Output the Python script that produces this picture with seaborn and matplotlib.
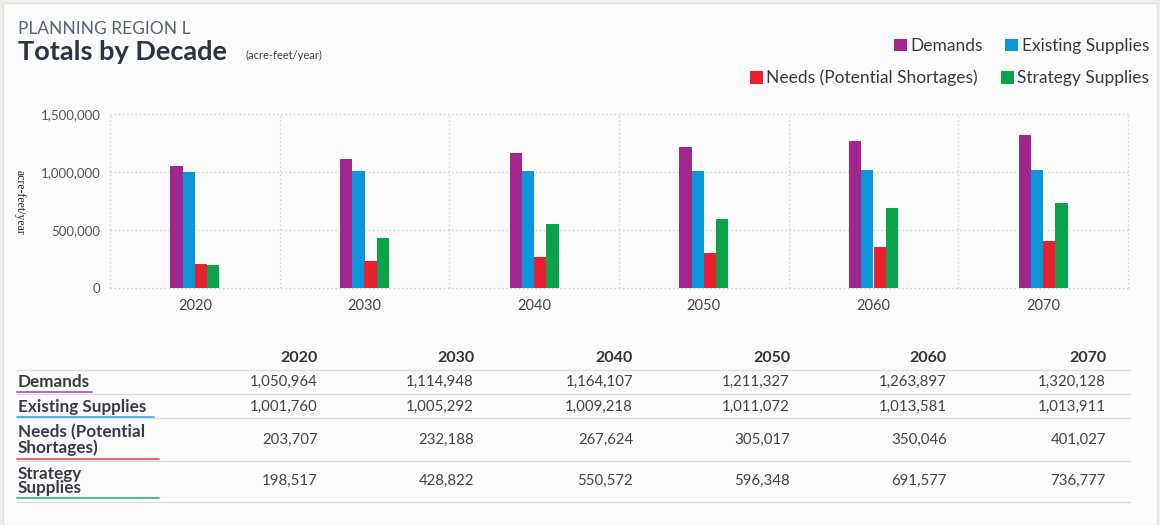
import numpy as np
import pandas as pd
import matplotlib
matplotlib.use("Agg")
import matplotlib.pyplot as plt
from matplotlib.patches import Patch
from matplotlib.lines import Line2D
import seaborn as sns

# ---- data -------------------------------------------------------------
decades = ["2020", "2030", "2040", "2050", "2060", "2070"]
series = ["Demands", "Existing Supplies", "Needs (Potential Shortages)", "Strategy Supplies"]
demands = [1050964, 1114948, 1164107, 1211327, 1263897, 1320128]
existing_supplies = [1001760, 1005292, 1009218, 1011072, 1013581, 1013911]
needs = [203707, 232188, 267624, 305017, 350046, 401027]
strategy_supplies = [198517, 428822, 550572, 596348, 691577, 736777]
row_labels = ["Demands", "Existing Supplies", "Needs (Potential\nShortages)", "Strategy\nSupplies"]
y_ticks = [0, 500000, 1000000, 1500000]

colors = ["#a0278f", "#0a96d8", "#e8202f", "#0aa24a"]

values = [demands, existing_supplies, needs, strategy_supplies]
df = pd.DataFrame({
    "decade": np.repeat([decades], len(series), axis=0).ravel(),
    "series": np.repeat(series, len(decades)),
    "value": np.concatenate(values),
})

# ---- figure -----------------------------------------------------------
sns.set_theme(style="white")
plt.rcParams["font.family"] = ["Lato", "DejaVu Sans"]

W, H = 1160, 525
fig = plt.figure(figsize=(W / 100, H / 100), dpi=100, facecolor="#efeeea")

# white card behind everything
card = plt.Rectangle((3 / W, 0), 1 - 6 / W, 1 - 3 / H, transform=fig.transFigure,
                     facecolor="#fbfbfb", edgecolor="#e4e3df", lw=1, zorder=-5)
fig.patches.append(card)


def fx(x):
    return x / W


def fy(y):
    return 1 - y / H


ax = fig.add_axes([fx(110), fy(288), fx(1128) - fx(110), fy(114) - fy(288)])
ax.set_facecolor("none")
ax.set_zorder(2)

sns.barplot(data=df, x="decade", y="value", hue="series", order=decades,
            hue_order=series, palette=colors, width=0.29, gap=0,
            saturation=1, dodge=True, legend=False, ax=ax, linewidth=0)

ax.set_xlim(-0.5, len(decades) - 0.5)
ax.set_ylim(0, 1500000)
ax.set_yticks(y_ticks)
ax.set_yticklabels([f"{v:,}" for v in y_ticks])
ax.set_xticks(range(len(decades)))
ax.set_xticklabels(decades)
ax.tick_params(axis="both", which="both", length=0)
ax.tick_params(axis="y", labelsize=9.5, labelcolor="#555555", pad=7)
ax.tick_params(axis="x", labelsize=10.5, labelcolor="#444444", pad=8)
ax.set_xlabel("")
ax.set_ylabel("")
for s in ax.spines.values():
    s.set_visible(False)

grid_kw = dict(color="#cfcfcf", lw=1, linestyle=(0, (1, 2)), zorder=0, clip_on=False)
for v in y_ticks:
    ax.axhline(v, **grid_kw)
for x in np.arange(-0.5, len(decades), 1):
    ax.axvline(x, **grid_kw)
ax.set_axisbelow(True)

fig.text(fx(20), fy(202), "acre-feet/year", rotation=270, ha="center", va="center",
         fontsize=8.5, color="#222222", family=["Liberation Serif", "DejaVu Serif"])

# ---- titles -----------------------------------------------------------
fig.text(fx(18), fy(29), "PLANNING REGION L", ha="left", va="center",
         fontsize=12.5, color="#5b6272")
fig.text(fx(18), fy(60), "Totals by Decade", ha="left", va="baseline",
         fontsize=19.5, fontweight="bold", color="#2b3344")
fig.text(fx(245), fy(59), "(acre-feet/year)", ha="left", va="baseline",
         fontsize=8, color="#3b4050")

# ---- legend (two right-aligned rows) ------------------------------------
handles = [Patch(facecolor=c, edgecolor="none") for c in colors]
leg_kw = dict(frameon=False, fontsize=12.5, handlelength=0.75, handleheight=0.75,
              handletextpad=0.2, columnspacing=1.3, borderaxespad=0, borderpad=0,
              labelcolor="#3a3a3a")
leg1 = fig.legend(handles[:2], series[:2], ncol=2, loc="center right",
                  bbox_to_anchor=(fx(1149), fy(46)), **leg_kw)
leg2 = fig.legend(handles[2:], series[2:], ncol=2, loc="center right",
                  bbox_to_anchor=(fx(1149), fy(78)), **leg_kw)

# ---- data table ---------------------------------------------------------
col_right = [318, 474, 633, 790, 947, 1106]
header_y = 358
row_y = [382, 407, 440, 481]
rule_y = [370, 394, 418, 461, 502]
underline = [(92, 392), (154, 417), (159, 459), (159, 498)]

for xr, d in zip(col_right, decades):
    fig.text(fx(xr), fy(header_y), d, ha="right", va="center", fontsize=11.5,
             fontweight="bold", color="#333333")

for yr in rule_y:
    fig.add_artist(Line2D([fx(17), fx(1130)], [fy(yr), fy(yr)], color="#dedede", lw=1))

for lbl, yr, vals, c, (ux, uy) in zip(row_labels, row_y, values, colors, underline):
    fig.text(fx(18), fy(yr), lbl, ha="left", va="center", fontsize=12.3,
             fontweight="bold", color="#3a3a48", linespacing=0.9)
    fig.add_artist(Line2D([fx(17), fx(ux)], [fy(uy), fy(uy)], color=c, lw=1.3, alpha=0.75))
    for xr, v in zip(col_right, vals):
        fig.text(fx(xr), fy(yr), f"{v:,}", ha="right", va="center", fontsize=10.8,
                 color="#444444")

fig.savefig("out.png", dpi=100, facecolor=fig.get_facecolor())
